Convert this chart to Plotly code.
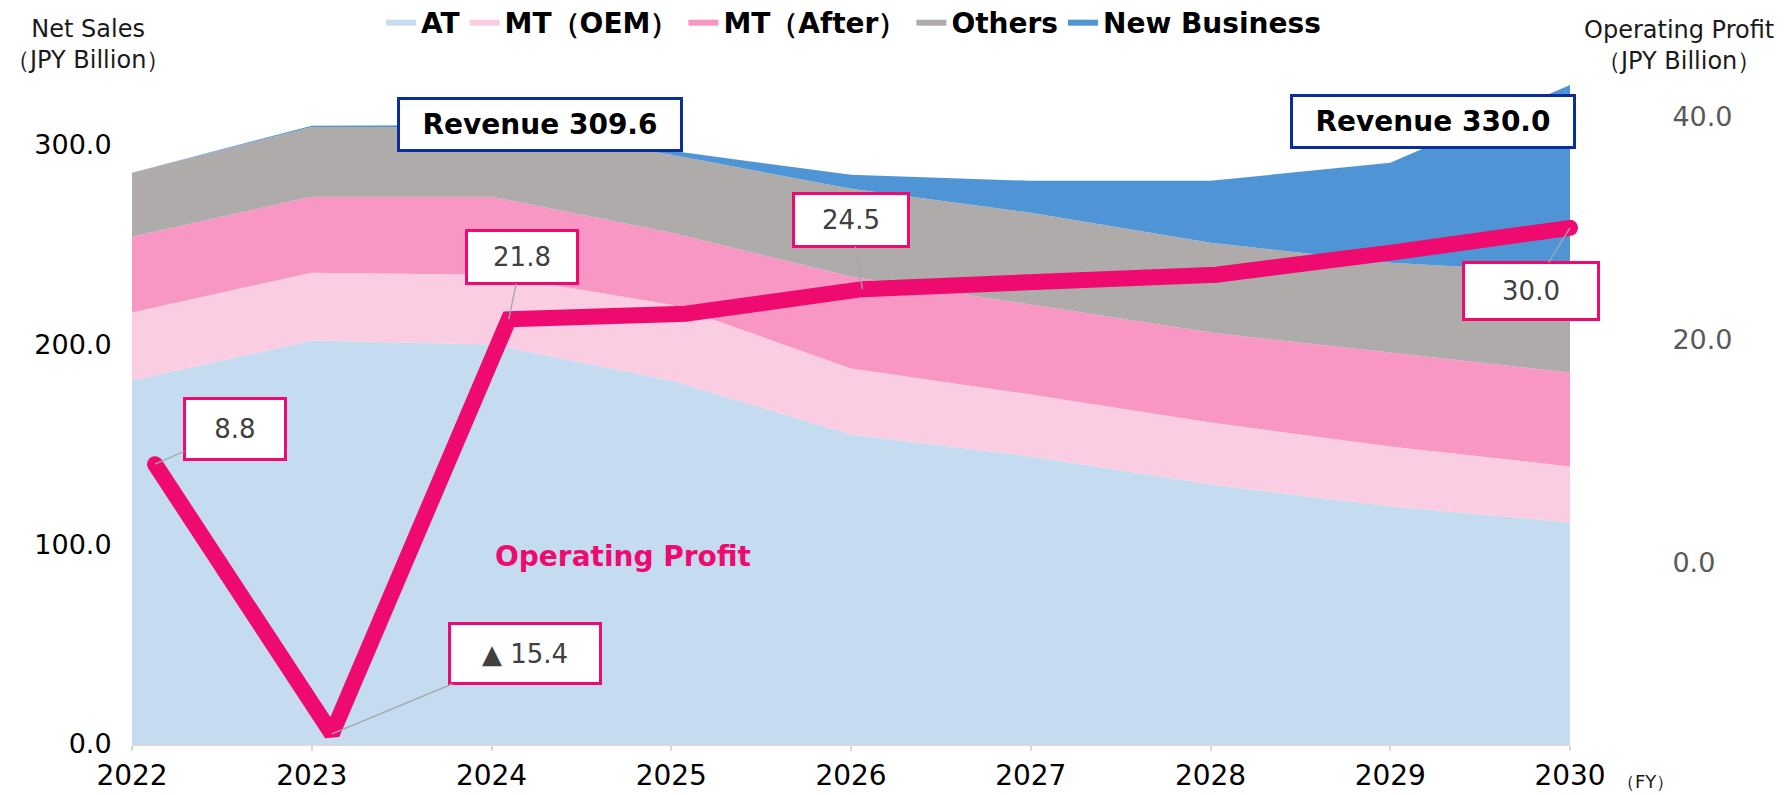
import plotly.graph_objects as go

# ---------------- data ----------------
years = [2022, 2023, 2024, 2025, 2026, 2027, 2028, 2029, 2030]
at_sales = [182, 202, 200, 182, 155, 144, 130, 119, 111]
mt_oem = [34, 34, 35, 38, 33, 31, 31, 30, 28]
mt_after = [38, 38, 39, 36, 46, 45, 45, 47, 47]
others = [32, 35, 35, 39, 44, 46, 45, 45, 50]
new_business = [0, 0.6, 1, 2, 7, 16, 31, 50, 94]
op_profit = [8.8, -15.4, 21.8, 22.3, 24.5, 25.0, 25.8, 27.8, 30.0]
op_labels = {0: "8.8", 1: "▲ 15.4", 2: "21.8", 4: "24.5", 8: "30.0"}
revenue_labels = {1: "Revenue 309.6", 8: "Revenue 330.0"}
left_ticks = [0, 100, 200, 300]
right_ticks = [0, 20, 40]

series_names = ["AT", "MT（OEM）", "MT（After）", "Others", "New Business"]
series_vals = [at_sales, mt_oem, mt_after, others, new_business]
series_colors = ["#C4DBF0", "#FBCDE2", "#F897C4", "#AFABAB", "#4F95D6"]

PINK = "#EE0A6E"
NAVY = "#0A2E9C"
FONT = "DejaVu Sans"
LINE_W = 16

W, H = 1789, 795
# plot area in window pixels
PX0, PX1, PY0, PY1 = 132, 1570, 45, 744
L, R, T, B = PX0, W - PX1, PY0, H - PY1
PW, PH = W - L - R, H - T - B


def paper(xs, ys):
    """window pixel -> paper coords"""
    return (xs - L) / PW, (H - B - ys) / PH


fig = go.Figure()
for name, vals, col in zip(series_names, series_vals, series_colors):
    fig.add_trace(go.Scatter(
        x=years, y=vals, name=name, stackgroup="one", mode="lines",
        line=dict(width=0, color=col), fillcolor=col,
    ))

# round caps only at the two ends of the line
cap_sizes = [LINE_W if i in (0, len(years) - 1) else 0 for i in range(len(years))]

# operating profit line sits on its own (secondary) category axis,
# which starts slightly inside the area chart's left edge
fig.add_trace(go.Scatter(
    x=years, y=op_profit, xaxis="x2", yaxis="y2", mode="lines+markers",
    showlegend=False, hoverinfo="skip",
    line=dict(color=PINK, width=LINE_W),
    marker=dict(color=PINK, size=cap_sizes, opacity=1,
                line=dict(width=0, color=PINK)),
    cliponaxis=False,
))

totals = [sum(v) for v in zip(*series_vals)]

annotations = []
label_cfg = {
    0: dict(ax=80, ay=-35, w=94, h=54),
    1: dict(ax=193, ay=-80, w=144, h=53),
    2: dict(ax=13, ay=-62, w=104, h=46),
    4: dict(ax=-12, ay=-69, w=108, h=46),
    8: dict(ax=-39, ay=63, w=128, h=50),
}
for i, txt in op_labels.items():
    c = label_cfg[i]
    annotations.append(dict(
        x=years[i], y=op_profit[i], xref="x2", yref="y2", text=txt,
        showarrow=True, arrowhead=0, arrowwidth=1.3, arrowcolor="#A6A6A6",
        ax=c["ax"], ay=c["ay"], width=c["w"], height=c["h"],
        bgcolor="white", bordercolor=PINK, borderwidth=3, borderpad=2,
        font=dict(family=FONT, size=26, color="#404040"),
    ))

rev_cfg = {1: dict(xs=228, ys=1), 8: dict(xs=-137, ys=-37)}
for i, txt in revenue_labels.items():
    c = rev_cfg[i]
    annotations.append(dict(
        x=years[i], y=totals[i], xref="x", yref="y", text="<b>" + txt + "</b>",
        showarrow=False, xshift=c["xs"], yshift=c["ys"], width=276, height=45,
        bgcolor="white", bordercolor=NAVY, borderwidth=3, borderpad=2,
        font=dict(family=FONT, size=28, color="black"),
    ))


def text_at(xs, ys, text, size, color="#1A1A1A"):
    px_, py_ = paper(xs, ys)
    annotations.append(dict(x=px_, y=py_, xref="paper", yref="paper",
                            xanchor="center", yanchor="middle", align="center",
                            showarrow=False, text=text,
                            font=dict(family=FONT, size=size, color=color)))


text_at(623, 556, "<b>Operating Profit</b>", 28, PINK)
text_at(88, 44, "Net Sales<br>（JPY Billion）", 24)
text_at(1679, 46, "Operating Profit<br>（JPY Billion）", 24)
text_at(1645, 781, "（FY）", 18)

lx, ly = paper(381, 22)

# secondary category axis for the line: first category ~23px right of the area edge
line_x_start = years[0] - 23 / ((PX1 - PX0 - 23) / (years[-1] - years[0]))

fig.update_layout(
    width=W, height=H,
    margin=dict(l=L, r=R, t=T, b=B, autoexpand=False),
    paper_bgcolor="white", plot_bgcolor="white",
    font=dict(family=FONT, color="black"),
    showlegend=True, hovermode=False,
    legend=dict(orientation="h", x=lx, y=ly, xanchor="left", yanchor="middle",
                font=dict(family=FONT, size=28, color="black", weight="bold"),
                itemwidth=30, traceorder="normal", bgcolor="rgba(0,0,0,0)"),
    xaxis=dict(range=[years[0], years[-1]], tickvals=years, ticks="outside",
               ticklen=5, tickcolor="#D9D9D9", tickwidth=1.5,
               showline=True, linecolor="#D9D9D9", linewidth=2,
               showgrid=False, zeroline=False, automargin=False,
               tickfont=dict(family=FONT, size=28, color="black")),
    xaxis2=dict(range=[line_x_start, years[-1]], overlaying="x", visible=False),
    yaxis=dict(range=[0, 350], tickvals=left_ticks, tickformat=".1f",
               showgrid=False, zeroline=False, showline=False, automargin=False,
               ticks="outside", ticklen=14, tickcolor="rgba(0,0,0,0)",
               tickfont=dict(family=FONT, size=27, color="black")),
    yaxis2=dict(range=[-16.3, 46.4], overlaying="y", side="right",
                tickvals=right_ticks, tickformat=".1f",
                showgrid=False, zeroline=False, showline=False, automargin=False,
                ticks="outside", ticklen=96, tickcolor="rgba(0,0,0,0)",
                tickfont=dict(family=FONT, size=27, color="#595959")),
    annotations=annotations,
)

fig.write_html("out.html", config={"displayModeBar": False},
               post_script="document.body.style.margin='0px';")
